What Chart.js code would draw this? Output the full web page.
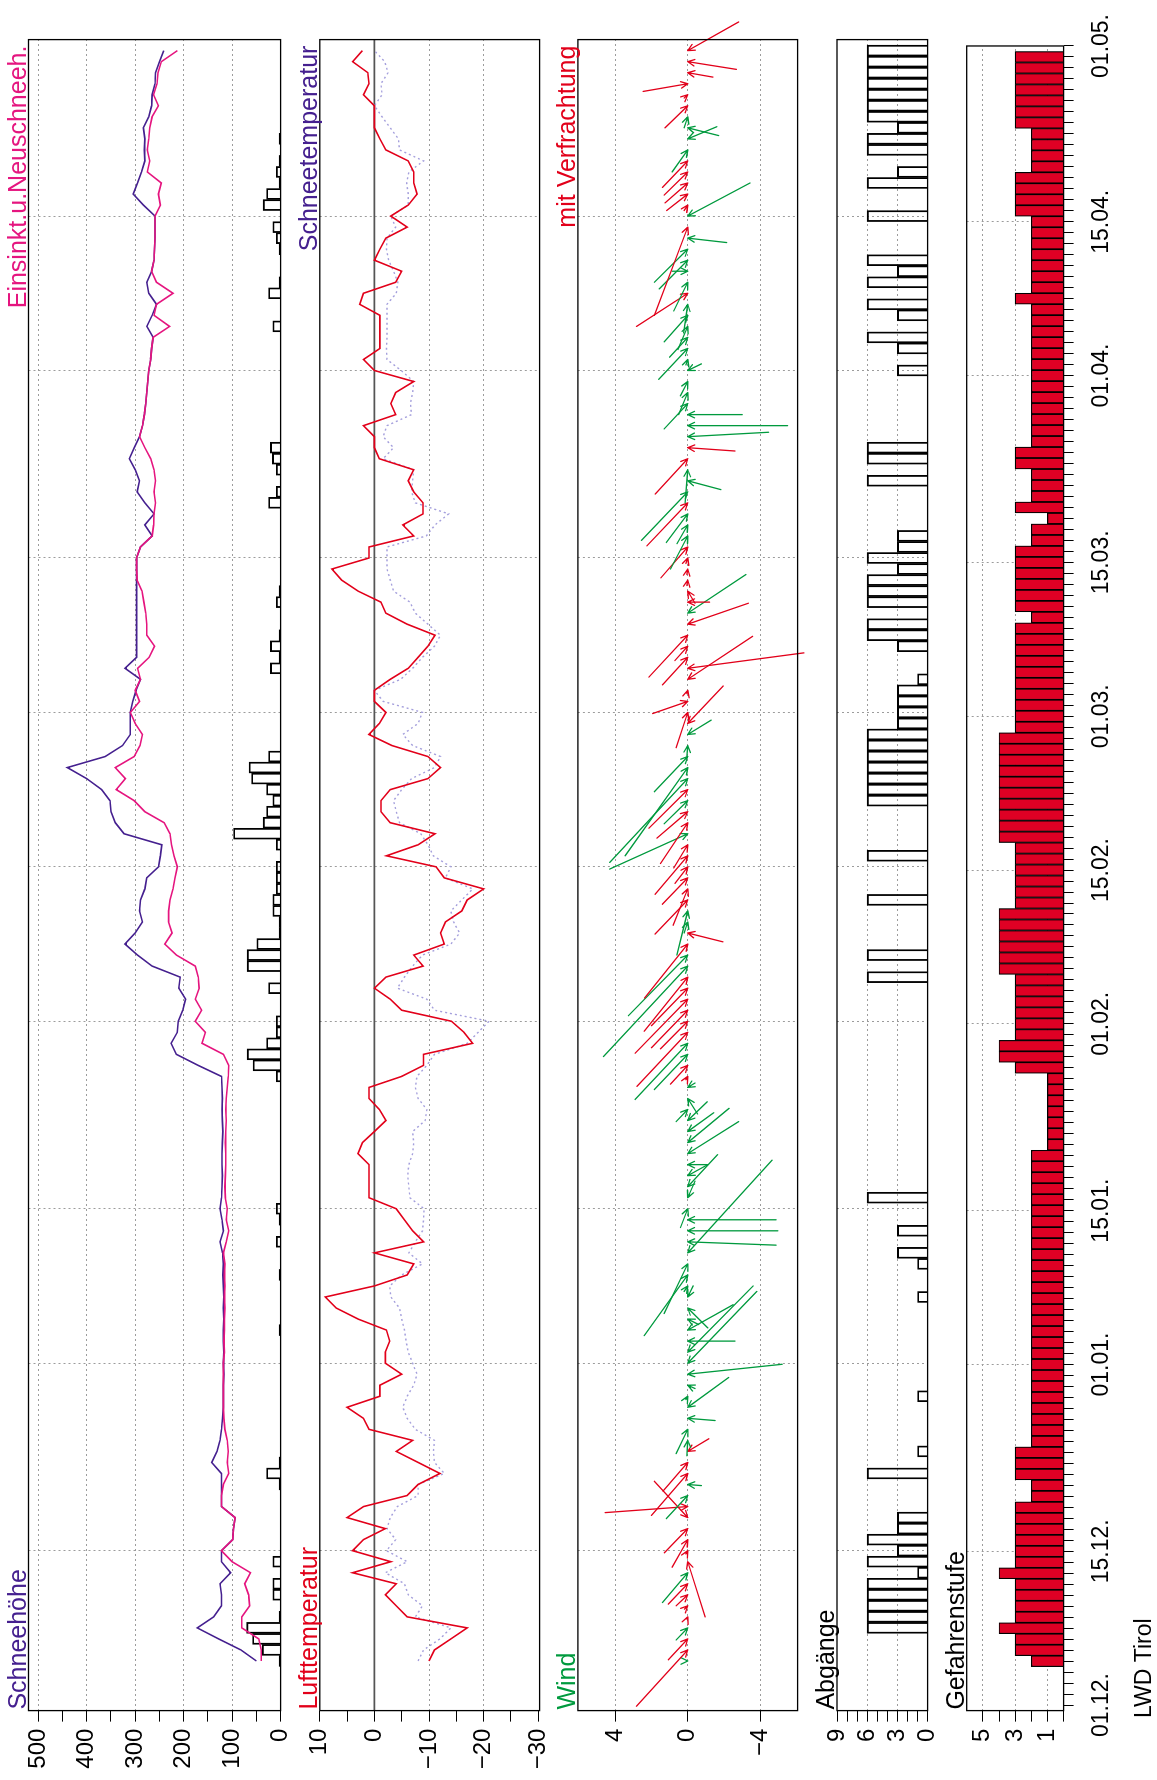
<!DOCTYPE html>
<html>
<head>
<meta charset="utf-8">
<title>LWD Tirol</title>
<script src="https://cdn.jsdelivr.net/npm/chart.js@4.4.1/dist/chart.umd.min.js"></script>
<style>
  html, body { margin: 0; padding: 0; background: #fff; }
  #page { position: relative; width: 1157px; height: 1780px; overflow: hidden; background: #fff; }
  /* the chart is laid out in landscape and turned to portrait */
  #wrap { position: absolute; left: 0; top: 0; width: 1780px; height: 1157px;
          transform-origin: 0 0; transform: translateY(1780px) rotate(-90deg); }
  #wrap canvas { position: absolute; left: 0; }
</style>
</head>
<body>
<div id="page"><div id="wrap">
  <canvas id="snow" width="1780" height="302" style="top:0px"></canvas>
  <canvas id="temp" width="1780" height="276" style="top:285px"></canvas>
  <canvas id="wind" width="1780" height="274" style="top:545px"></canvas>
  <canvas id="aval" width="1780" height="144" style="top:805px"></canvas>
  <canvas id="danger" width="1780" height="222" style="top:935px"></canvas>
</div></div>
<script>
// day 0 = 01.12., one value per day up to 30.04.
const tickDays = [0, 14, 31, 45, 62, 76, 90, 104, 121, 135, 151];
const tickLabels = ["01.12.", "15.12.", "01.01.", "15.01.", "01.02.", "15.02.", "01.03.", "15.03.", "01.04.", "15.04.", "01.05."];

const snowTicks = [0, 50, 100, 150, 200, 250, 300, 350, 400, 450, 500];
const tempTicks = [-30, -25, -20, -15, -10, -5, 0, 5, 10];
const windTicks = [-4, 0, 4];
const avalTicks = [0, 1, 2, 3, 4, 5, 6, 7, 8, 9];
const dangerTicks = [0, 1, 2, 3, 4, 5];

// Schneehoehe (cm)
const snowHeight = [
  null, null, null, null, 50, 82, 128, 172, 138, 122,
  122, 125, 103, 122, 122, 99, 97, 94, 122, 122,
  122, 122, 142, 131, 125, 122, 120, 118, 118, 118,
  117, 118, 117, 118, 118, 117, 118, 117, 118, 119,
  118, 120, 125, 118, 121, 125, 122, 121, 120, 121,
  121, 120, 119, 120, 121, 120, 121, 122, 170, 215,
  226, 213, 211, 202, 196, 210, 207, 265, 295, 321,
  300, 285, 291, 289, 280, 276, 252, 248, 245, 323,
  341, 350, 352, 369, 400, 440, 362, 326, 310, 310,
  310, 305, 298, 289, 321, 297, 297, 297, 297, 297,
  297, 297, 297, 297, 297, 289, 265, 280, 261, 280,
  296, 291, 300, 312, 302, 291, 285, 281, 278, 276,
  274, 272, 268, 266, 263, 276, 265, 256, 272, 276,
  266, 261, 260, 259, 259, 259, 283, 304, 295, 287,
  280, 281, 280, 283, 272, 266, 265, 259, 258, 250,
  241
];
// Einsinktiefe u. Neuschneehoehe (cm)
const sinkDepth = [
  null, null, null, null, 40, 40, 45, 80, 80, 64,
  66, 74, 62, 100, 122, 99, 97, 94, 122, 122,
  118, 107, 110, 108, 110, 115, 117, 118, 118, 118,
  118, 118, 116, 117, 116, 116, 115, 116, 115, 116,
  115, 118, 112, 107, 112, 110, 114, 115, 114, 113,
  113, 114, 113, 112, 113, 112, 110, 108, 107, 118,
  162, 155, 176, 163, 176, 168, 170, 176, 215, 239,
  224, 231, 231, 228, 222, 218, 213, 220, 225, 228,
  240, 280, 302, 339, 320, 341, 302, 290, 285, 300,
  310, 291, 300, 289, 295, 271, 260, 276, 276, 278,
  282, 286, 296, 297, 297, 289, 265, 262, 261, 258,
  261, 258, 261, 268, 280, 291, 285, 281, 278, 276,
  274, 272, 268, 266, 263, 229, 261, 256, 222, 256,
  266, 261, 260, 259, 259, 259, 248, 252, 246, 275,
  270, 275, 272, 270, 265, 252, 262, 255, 253, 246,
  213
];
// Neuschnee (cm)
const newSnow = [
  null, null, null, null, 3, 38, 58, 70, 3, null,
  16, 16, null, 16, null, null, null, null, null, null,
  3, 29, 3, null, null, null, null, null, null, null,
  null, null, null, null, 3, null, null, null, null, 3,
  null, null, 9, null, 3, 9, null, null, null, null,
  null, null, null, null, null, null, null, 9, 57, 69,
  29, 9, 9, null, null, 25, null, 69, 69, 49,
  3, 3, 16, 16, 9, 9, 9, null, 9, 97,
  36, 29, 16, 29, 60, 65, 25, null, null, null,
  null, null, null, null, 21, 3, 21, 3, null, null,
  9, 3, null, null, null, null, null, null, null, 25,
  9, null, 9, 17, 21, null, null, null, null, null,
  null, null, null, null, null, 16, null, null, 25, 3,
  null, null, 3, 9, 16, null, 36, 29, 3, 9,
  3, null, 3, null, null, null, null, null, null, null,
  null
];
// Lufttemperatur (°C)
const airTemp = [
  null, null, null, null, -10, -11, -14, -17, -6, -4,
  -2, -4, 4, -3, 4, 2, -2, 5, 2, -6,
  -8, -12, -8, -4, -7, 1, 2, 5, -1, -1,
  -5, -2, -2, -2.8, -2.2, 3, 7, 9, 0, -6,
  -7.2, 0, -9, -7, -5.5, -4, 1, 1, 1, 1,
  3, 2.2, 0, -2.1, -0.9, 1, 1, -5, -9, -9,
  -18, -16.4, -14.1, -5, -2.9, 0, -2.1, -8.9, -7.2, -12.8,
  -12.1, -13, -16, -17, -20, -12.8, -11.3, -2.2, -8, -11.1,
  -2.9, -1.2, -1.2, -2.9, -9.8, -12.1, -9.8, -3.2, 1, -0.9,
  -2.1, 0, 0, -2.9, -6.2, -8, -9.8, -11.1, -6, -2.1,
  -1.2, 3, 6, 7.8, 1, 1, -7.2, -5.2, -8.9, -8.9,
  -7.2, -6.2, -7.2, -0.9, 0, 0, 2, -3.9, -3, -3.9,
  -7.2, 0, 2, -1, -1, -1, -1, 2.7, 2, -3.9,
  -5, 0, -1, -2.1, -6, -3, -6.2, -7.8, -7.2, -7.2,
  -6.2, -2.1, -1, 0, 0, 0, 2, 1, 1.2, 4,
  2.2
];
// Schneetemperatur (°C)
const snowTemp = [
  null, null, null, null, -8, -9, -12, -14, -7.5, -8.8,
  -6.2, -5.5, -2, -6, -2.2, -3.9, -2.3, -2.9, -4.2, -8,
  -8, -12.8, -11, -10.8, -11, -7.5, -6, -5.2, -6, -7.2,
  -7.8, -7, -6.2, -5.8, -5.5, -5, -4.6, -3, -2.8, -5,
  -8.8, -6.3, -7.5, -8.8, -9, -9.1, -6.5, -6.3, -6.1, -6.3,
  -7, -7.2, -7, -9.3, -9.6, -8, -7.5, -7.8, -9.6, -11,
  -17, -19, -21, -11, -9.6, -4.2, -5.5, -7, -8.8, -14,
  -15.6, -14.5, -14, -16, -18, -13, -14, -10.8, -9.8, -8.5,
  -4.6, -4, -3.5, -5, -6.8, -11, -12.1, -7, -5.2, -8,
  -8.8, -1.6, 0, -4.8, -7, -8.8, -11, -12.1, -9.8, -7.5,
  -6.5, -3.5, -2.9, -2.3, -2.3, -2.3, -9.5, -11.1, -13.6, -7.5,
  -6.8, -7, -7.2, -1.6, -3.5, -1.6, -2.3, -6.8, -6.6, -7,
  -7.2, -4.9, -2.3, -2.2, -2.3, -2.3, -2.3, -2.3, -4, -4.3,
  -3.5, -2.6, -2.2, -2.3, -3.9, -3, -6.2, -6.2, -5.9, -6.3,
  -9, -4.6, -4.4, -2.9, -1.4, 0, -1.4, -1.2, -2.5, -1.9,
  0
];
// Wind: arrow tail value, tail offset in days, 1 = mit Verfrachtung
const windValue = [
  null, null, null, null, 0.05, 2.82, 1.07, 0.64, 0.05, 0.18,
  0.64, 1.07, 1.39, -0.96, 0.1, 0.86, 1.29, 1.84, 4.55, 1.18,
  -0.75, 2.0, 1.36, -1.16, 0.05, 0.64, -1.5, -2.25, 0.1, -0.4,
  -5.2, -3.8, -3.6, -2.6, -2.5, -0.6, -1.1, -0.3, 0.2, 2.4,
  1.3, -4.64, -4.86, -4.96, -4.86, 0.4, -0.4, -1.64, -1.1, -1.1,
  -2.8, -2.27, -1.43, -1.07, 0.64, -0.54, -0.4, 0.1, 0.95, 1.84,
  2.9, 2.8, 1.5, 2.0, 2.9, 2.0, 2.4, 4.64, 3.27, 2.38,
  -1.93, 0.2, 0.6, 1.8, 0.8, 1.4, 0.7, 1.8, 0.77, 4.3,
  1.5, 1.7, 1.3, 2.14, 4.3, 3.45, 1.84, 0.05, -1.29, -1.95,
  0.64, 1.93, 0.05, -3.57, -6.4, 1.39, 0.71, 2.14, -3.34, -3.2,
  -1.2, -0.4, 0.05, 0.05, 0.1, 1.48, 0.95, 0.59, 1.18, 2.25,
  2.55, -1.82, 0.14, 1.79, -2.6, -4.45, -5.5, -3.0, 1.3, 0.5,
  0.41, -0.75, 0.1, 1.6, 1.0, 0.54, 1.3, 0.23, 2.82, 0.77,
  0.86, 1.57, 1.84, -2.14, 1.84, -3.43, 0.2, 1.16, 1.25, 1.3,
  1.39, 0.86, -1.6, -1.7, 0.2, 1.25, 0.2, 2.46, -1.38, -2.68,
  -2.8
];
const windShift = [
  null, null, null, null, 0, -5.1, -1.9, -1.1, -0.2, -0.3,
  -1, -1.85, -2.7, -5, -0.3, -2.5, -2.2, 3.3, -0.55, -2.1,
  -0.1, -3.8, -2.6, 1.15, -1.4, -2.2, -0.2, 2.7, -0.3, -0.3,
  0.9, 6.5, 6, 0, 2.3, -0.5, -1.8, 1, -0.5, -5.5,
  -4.5, 8.4, -0.3, 0, 0, -1.7, 1.5, 2.9, 1, 0,
  2.9, 3.1, 1.7, 1.7, -1.1, -1.4, 0.4, -0.3, -1.7, -3.2,
  -5.1, -4.9, -2.5, -3.4, -4.9, -3.4, -4.9, -8.2, -5.5, -4.9,
  -0.8, -1, -4, -3.1, -3.3, -2.4, -1.5, -3.5, -2.1, -3.2,
  -3.7, -2.4, -2.1, -3.5, -7.6, -8, -3.2, -1, 1.3, 3.4,
  -3.2, -1.1, -0.3, 3.9, 1.4, -2.5, -1.3, -3.8, 1.9, 3.5,
  0, -1.1, -0.5, -0.5, -0.5, -2.8, -3, -1.7, -2.6, -3.9,
  -4.4, -0.8, -3, -3.2, -0.3, 0.4, 0, 0, -2.3, -2,
  -1.3, 0.6, -0.5, -2.8, -1.8, -2.1, -2.4, -2.6, -3, -2.6,
  0, -2.6, -3, -0.4, -8, 3, -0.5, -1.5, -1.8, -2.1,
  -2.4, -2, 1.1, -0.7, -1, -2, -0.3, -0.7, -0.4, -0.7,
  2.6
];
const windDrift = [
  null, null, null, null, 0, 1, 1, 0, 1, 1,
  1, 1, 0, 1, 1, 1, 1, 1, 1, 0,
  0, 1, 1, 1, 0, 0, 0, 0, 0, 0,
  0, 0, 0, 0, 0, 0, 0, 0, 0, 0,
  0, 0, 0, 0, 0, 0, 0, 0, 0, 0,
  0, 0, 0, 0, 0, 0, 0, 1, 1, 0,
  0, 1, 1, 1, 1, 1, 1, 0, 0, 1,
  1, 0, 0, 1, 1, 1, 1, 1, 1, 0,
  1, 1, 0, 1, 0, 0, 0, 0, 0, 1,
  1, 1, 1, 1, 1, 1, 1, 1, 1, 0,
  1, 1, 1, 1, 1, 1, 0, 0, 0, 1,
  0, 0, 0, 1, 1, 0, 0, 0, 0, 0,
  0, 0, 0, 0, 0, 0, 0, 0, 1, 0,
  0, 0, 0, 0, 1, 0, 1, 1, 1, 1,
  1, 0, 0, 0, 0, 1, 1, 1, 1, 1,
  1
];
// Abgaenge (Anzahl)
const avalanches = [
  null, null, null, null, null, null, null, 6, 6, 6,
  6, 6, 1, 6, 3, 6, 3, 3, null, null,
  null, 6, null, 1, null, null, null, null, 1, null,
  null, null, null, null, null, null, null, 1, null, null,
  1, 3, null, 3, null, null, 6, null, null, null,
  null, null, null, null, null, null, null, null, null, null,
  null, null, null, null, null, null, 6, null, 6, null,
  null, null, null, 6, null, null, null, 6, null, null,
  null, null, 6, 6, 6, 6, 6, 6, 6, 3,
  3, 3, 3, 1, null, null, 3, 6, 6, null,
  6, 6, 6, 3, 6, 3, 3, null, null, null,
  null, 6, null, 6, 6, null, null, null, null, null,
  null, 3, null, 3, 6, null, 3, 6, null, 6,
  3, 6, null, null, null, 6, null, null, 6, 3,
  null, 6, 6, 3, 6, 6, 6, 6, 6, 6,
  6
];
// Gefahrenstufe
const dangerLevel = [
  null, null, null, null, 2, 3, 3, 4, 3, 3,
  3, 3, 4, 3, 3, 3, 3, 3, 3, 2,
  2, 3, 3, 3, 2, 2, 2, 2, 2, 2,
  2, 2, 2, 2, 2, 2, 2, 2, 2, 2,
  2, 2, 2, 2, 2, 2, 2, 2, 2, 2,
  2, 1, 1, 1, 1, 1, 1, 1, 3, 4,
  4, 3, 3, 3, 3, 3, 3, 4, 4, 4,
  4, 4, 4, 3, 3, 3, 3, 3, 3, 4,
  4, 4, 4, 4, 4, 4, 4, 4, 4, 3,
  3, 3, 3, 3, 3, 3, 3, 3, 3, 2,
  3, 3, 3, 3, 3, 3, 2, 2, 1, 3,
  2, 2, 2, 3, 3, 2, 2, 2, 2, 2,
  2, 2, 2, 2, 2, 2, 2, 2, 3, 2,
  2, 2, 2, 2, 2, 2, 3, 3, 3, 3,
  2, 2, 2, 2, 3, 3, 3, 3, 3, 3,
  3
];

const RED = "#e2001a";
const GREEN = "#009a3e";
const PURPLE = "#45208f";
const PINK = "#e5157f";
const LILAC = "#a49fdc";
const GRIDC = "#9c9c9c";

Chart.defaults.font.family = '"Liberation Sans", Arial, Helvetica, sans-serif';
Chart.defaults.font.size = 21;
Chart.defaults.color = "#000";
Chart.defaults.animation = false;
Chart.defaults.events = [];
Chart.defaults.plugins.legend.display = false;
Chart.defaults.plugins.tooltip.enabled = false;

const AXIS_W = 69.4;
const PAD_R = 39.6;
const gridDays = tickDays.slice(1, -1);
const allDays = Array.from({length: 152}, (_, i) => i);
const series = arr => arr.map((v, i) => ({x: i, y: v}));

function timeAxis(bottom) {
  return {
    type: "linear", min: -0.5, max: 151, offset: false,
    afterBuildTicks: s => { s.ticks = (bottom ? allDays : gridDays).map(v => ({value: v})); },
    afterFit: s => { s.height = bottom ? 93.4 : 0; },
    border: {display: false, dash: [2, 3]},
    grid: {
      color: c => (c.tick && gridDays.includes(c.tick.value)) ? GRIDC : "transparent",
      drawTicks: bottom, tickLength: 10, tickColor: "#000", tickWidth: 1, lineWidth: 1, offset: false
    },
    ticks: {
      display: bottom, autoSkip: false, maxRotation: 0, minRotation: 0, padding: 14,
      font: {size: 23},
      callback: v => { const k = tickDays.indexOf(v); return k < 0 ? "" : tickLabels[k]; }
    }
  };
}

function valueAxis(min, max, ticks, showLabel, showGrid) {
  return {
    min: min, max: max,
    afterBuildTicks: s => { s.ticks = ticks.map(v => ({value: v})); },
    afterFit: s => { s.width = AXIS_W; },
    border: {display: false, dash: [2, 3]},
    grid: {
      color: c => (c.tick && showGrid(c.tick.value)) ? GRIDC : "transparent",
      tickLength: 11, tickColor: "#000", tickWidth: 1, lineWidth: 1
    },
    ticks: {
      padding: 7, autoSkip: false, font: {size: 24},
      callback: v => showLabel(v) ? String(v).replace("-", "\u2212") : ""
    }
  };
}

// frame, panel titles and extra lines
function decor(opts) {
  return {
    id: "decor",
    beforeDatasetsDraw(chart) {
      if (opts.zeroLine) {
        const {ctx, chartArea: a, scales: {y}} = chart;
        const py = y.getPixelForValue(0);
        ctx.save();
        ctx.strokeStyle = "#555";
        ctx.lineWidth = 1.8;
        ctx.beginPath(); ctx.moveTo(a.left, py); ctx.lineTo(a.right, py); ctx.stroke();
        ctx.restore();
      }
    },
    afterDraw(chart) {
      const {ctx, chartArea: a} = chart;
      ctx.save();
      ctx.strokeStyle = "#000";
      ctx.lineWidth = 1.3;
      ctx.strokeRect(a.left, a.top, a.right - a.left, a.bottom - a.top);
      ctx.font = '25px "Liberation Sans", Arial, sans-serif';
      ctx.textBaseline = "alphabetic";
      if (opts.left) {
        ctx.fillStyle = opts.leftColor; ctx.textAlign = "left";
        ctx.fillText(opts.left, a.left + 1, a.top - 3);
      }
      if (opts.right) {
        ctx.fillStyle = opts.rightColor; ctx.textAlign = "right";
        ctx.fillText(opts.right, a.right - 6, a.top - 3);
      }
      if (opts.footer) {
        ctx.font = '23px "Liberation Sans", Arial, sans-serif';
        ctx.fillStyle = "#000"; ctx.textAlign = "left";
        ctx.fillText(opts.footer, 62, 216);
      }
      ctx.restore();
    }
  };
}

const windArrows = {
  id: "windArrows",
  afterDatasetsDraw(chart) {
    const {ctx, scales: {x, y}} = chart;
    ctx.save();
    ctx.lineWidth = 1.3;
    ctx.lineCap = "round";
    for (let i = 0; i < windValue.length; i++) {
      const v = windValue[i];
      if (v === null) continue;
      const hx = x.getPixelForValue(i), hy = y.getPixelForValue(0);
      const tx = x.getPixelForValue(i + windShift[i]), ty = y.getPixelForValue(v);
      ctx.strokeStyle = windDrift[i] ? RED : GREEN;
      ctx.beginPath();
      ctx.moveTo(tx, ty);
      ctx.lineTo(hx, hy);
      if (Math.hypot(hx - tx, hy - ty) > 0.5) {
        const ang = Math.atan2(hy - ty, hx - tx);
        [-1, 1].forEach(s => {
          const b = ang + Math.PI + s * 0.45;
          ctx.moveTo(hx, hy);
          ctx.lineTo(hx + 7.5 * Math.cos(b), hy + 7.5 * Math.sin(b));
        });
      }
      ctx.stroke();
    }
    ctx.restore();
  }
};

const lineStyle = {pointRadius: 0, borderWidth: 1.6, tension: 0, spanGaps: false, fill: false};
const barStyle = {barPercentage: 1, categoryPercentage: 1, borderWidth: 1.2, borderColor: "#000"};

// Schneehoehe
new Chart(document.getElementById("snow"), {
  type: "line",
  data: {datasets: [
    Object.assign({type: "line", data: series(sinkDepth), borderColor: PINK}, lineStyle),
    Object.assign({type: "line", data: series(snowHeight), borderColor: PURPLE}, lineStyle),
    Object.assign({type: "bar", data: series(newSnow), backgroundColor: "transparent"}, barStyle)
  ]},
  options: {
    responsive: false,
    layout: {padding: {left: 0, right: PAD_R, top: 28.5, bottom: 14.4}},
    scales: {
      x: timeAxis(false),
      y: valueAxis(0, 520, snowTicks, v => v % 100 === 0, v => v > 0 && v % 100 === 0)
    }
  },
  plugins: [decor({left: "Schneehöhe", leftColor: PURPLE, right: "Einsinkt.u.Neuschneeh.", rightColor: PINK})]
});

// Temperaturen
new Chart(document.getElementById("temp"), {
  type: "line",
  data: {datasets: [
    Object.assign({data: series(airTemp), borderColor: RED}, lineStyle),
    Object.assign({data: series(snowTemp), borderColor: LILAC, borderDash: [2, 3]}, lineStyle, {borderWidth: 1.4})
  ]},
  options: {
    responsive: false,
    layout: {padding: {left: 0, right: PAD_R, top: 34.8, bottom: 14.7}},
    scales: {
      x: timeAxis(false),
      y: valueAxis(-30.25, 10, tempTicks, v => v % 10 === 0, v => v === -10 || v === -20)
    }
  },
  plugins: [decor({left: "Lufttemperatur", leftColor: RED, right: "Schneetemperatur", rightColor: PURPLE, zeroLine: true})]
});

// Wind
new Chart(document.getElementById("wind"), {
  type: "line",
  data: {datasets: []},
  options: {
    responsive: false,
    layout: {padding: {left: 0, right: PAD_R, top: 32.9, bottom: 14.8}},
    scales: {
      x: timeAxis(false),
      y: valueAxis(-6.05, 6.05, windTicks, () => true, () => true)
    }
  },
  plugins: [windArrows, decor({left: "Wind", leftColor: GREEN, right: "mit Verfrachtung", rightColor: RED})]
});

// Abgaenge
new Chart(document.getElementById("aval"), {
  type: "bar",
  data: {datasets: [
    Object.assign({data: series(avalanches), backgroundColor: "transparent"}, barStyle)
  ]},
  options: {
    responsive: false,
    layout: {padding: {left: 0, right: PAD_R, top: 32, bottom: 14.7}},
    scales: {
      x: timeAxis(false),
      y: valueAxis(0, 9, avalTicks, v => v % 3 === 0, v => v === 3 || v === 6)
    }
  },
  plugins: [decor({left: "Abgänge", leftColor: "#000"})]
});

// Gefahrenstufe
new Chart(document.getElementById("danger"), {
  type: "bar",
  data: {datasets: [
    Object.assign({data: series(dangerLevel), backgroundColor: "#df0024"}, barStyle)
  ]},
  options: {
    responsive: false,
    layout: {padding: {left: 0, right: PAD_R, top: 31.7, bottom: 0}},
    scales: {
      x: timeAxis(true),
      y: valueAxis(0, 6, dangerTicks, v => v % 2 === 1, v => v % 2 === 1)
    }
  },
  plugins: [decor({left: "Gefahrenstufe", leftColor: "#000", footer: "LWD Tirol"})]
});
</script>
</body>
</html>
